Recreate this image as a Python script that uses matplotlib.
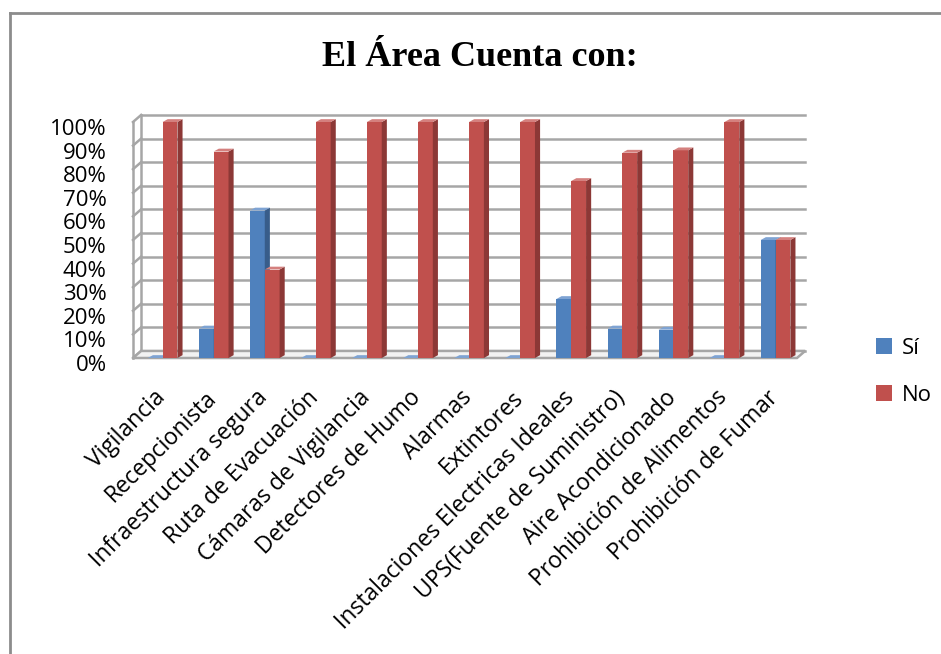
import matplotlib.pyplot as plt
from matplotlib.patches import Polygon, Rectangle
from matplotlib.lines import Line2D
from matplotlib.transforms import ScaledTranslation
import numpy as np

categories = ["Vigilancia", "Recepcionista", "Infraestructura segura",
              "Ruta de Evacuación", "Cámaras de Vigilancia", "Detectores de Humo",
              "Alarmas", "Extintores", "Instalaciones Electricas Ideales",
              "UPS(Fuente de Suministro)", "Aire Acondicionado",
              "Prohibición de Alimentos", "Prohibición de Fumar"]
si_values = [0, 12.5, 62.5, 0, 0, 0, 0, 0, 25, 12.5, 12, 0, 50]
no_values = [100, 87.5, 37.5, 100, 100, 100, 100, 100, 75, 87, 88, 100, 50]
y_ticks = [0, 10, 20, 30, 40, 50, 60, 70, 80, 90, 100]
series = [("Sí", si_values, "#4F81BD", "#385D8A", "#7EA3D3"),
          ("No", no_values, "#C0504D", "#8C3836", "#D4807E")]

W, H = 941, 654
fig = plt.figure(figsize=(W / 100, H / 100), dpi=100)
ax = fig.add_axes([133 / W, (H - 358) / H, (797 - 133) / W, 236 / H])

n = len(categories)
ax.set_xlim(-0.5, n - 0.5)
ax.set_ylim(0, 100)

# 3D-ish offsets (data units)
wall_dx, wall_dy = 0.16, 3.0
bar_dx, bar_dy = 0.1, 1.2
bw = 0.29
shift = 0.08
grid_col = "#A6A6A6"

# back wall gridlines + left wall
for t in y_ticks:
    ax.plot([-0.5 + wall_dx, n - 0.5 + wall_dx], [t + wall_dy, t + wall_dy],
            color=grid_col, lw=1.8, clip_on=False, zorder=1)
    ax.plot([-0.5, -0.5 + wall_dx], [t, t + wall_dy],
            color=grid_col, lw=1.8, clip_on=False, zorder=1)
ax.plot([-0.5 + wall_dx, -0.5 + wall_dx], [wall_dy, 100 + wall_dy],
        color=grid_col, lw=1.8, clip_on=False, zorder=1)
ax.plot([-0.5, -0.5], [0, 100], color=grid_col, lw=1.8, clip_on=False, zorder=1)
# floor
floor = Polygon([(-0.5, 0), (n - 0.5, 0), (n - 0.5 + wall_dx, wall_dy),
                 (-0.5 + wall_dx, wall_dy)], closed=True, facecolor="#F2F2F2",
                edgecolor=grid_col, lw=1.8, clip_on=False, zorder=1)
ax.add_patch(floor)

x = np.arange(n) + shift
for k, (name, vals, front, side, top) in enumerate(series):
    for i, v in enumerate(vals):
        x0 = x[i] - bw + k * bw
        x1 = x0 + bw
        ax.add_patch(Rectangle((x0, 0), bw, v, facecolor=front, edgecolor="none",
                               zorder=3 + k, clip_on=False))
        ax.add_patch(Polygon([(x1, 0), (x1 + bar_dx, bar_dy), (x1 + bar_dx, v + bar_dy), (x1, v)],
                             closed=True, facecolor=side, edgecolor="none",
                             zorder=3 + k, clip_on=False))
        ax.add_patch(Polygon([(x0, v), (x0 + bar_dx, v + bar_dy), (x1 + bar_dx, v + bar_dy), (x1, v)],
                             closed=True, facecolor=top, edgecolor="none",
                             zorder=3 + k, clip_on=False))
    ax.bar([0], [0], color=front, label=name)

for s in ax.spines.values():
    s.set_visible(False)

ax.set_yticks(y_ticks)
ax.set_yticklabels([f"{t}%" for t in y_ticks], fontsize=16, family="Open Sans")
ax.tick_params(axis="y", length=0, pad=19)
for lab in ax.get_yticklabels():
    lab.set_transform(lab.get_transform() + ScaledTranslation(0, -0.05, fig.dpi_scale_trans))

ax.set_xticks(x)
ax.set_xticklabels(categories, rotation=45, ha="right", rotation_mode="anchor",
                   fontsize=16.5, family="Open Sans")
ax.tick_params(axis="x", length=0, pad=20)
for lab in ax.get_xticklabels():
    lab.set_transform(lab.get_transform() + ScaledTranslation(-0.09, 0, fig.dpi_scale_trans))

fig.suptitle("El Área Cuenta con:", x=480 / W, y=1 - 58 / H, va="center",
             fontsize=26, fontweight="bold", family="Liberation Serif")

fig.legend(loc="upper left", bbox_to_anchor=(856 / W, 1 - 318 / H), frameon=False,
           handlelength=0.7, handleheight=0.7, handletextpad=0.45,
           labelspacing=1.15, prop={"family": "Open Sans", "size": 16})

# outer chart border
fig.add_artist(Line2D([10 / W, 10 / W], [0, 1 - 13 / H], color="#8C8C8C", lw=2))
fig.add_artist(Line2D([10 / W, 1], [1 - 13 / H, 1 - 13 / H], color="#8C8C8C", lw=2))

fig.savefig("out.png", dpi=100)
